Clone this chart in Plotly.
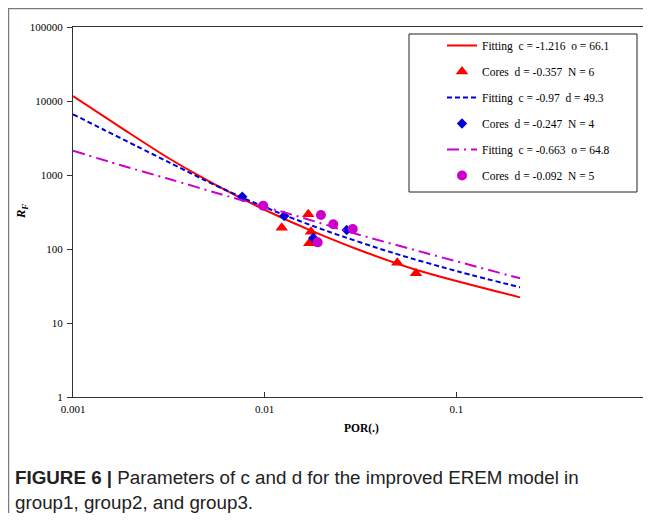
import plotly.graph_objects as go

# ---- data ----
red_fit_x = [0.001, 0.001906, 0.003082, 0.004783, 0.007145, 0.01066, 0.01723, 0.03142, 0.0621, 0.215]
red_fit_y = [11686, 3884, 1751, 905, 522, 314, 180, 96.3, 52.0, 22.2]
red_core_x = [0.01227, 0.01688, 0.01744, 0.01709, 0.0492, 0.0616]
red_core_y = [194, 294, 171, 120, 65.3, 47]

blue_fit_x = [0.001, 0.001439, 0.00215, 0.003206, 0.004783, 0.00743, 0.01276, 0.02113, 0.0469, 0.1044, 0.215]
blue_fit_y = [6612, 4120, 2450, 1462, 870, 512, 285, 175, 88.3, 48.9, 30.4]
blue_core_x = [0.00764, 0.01265, 0.01793, 0.0268]
blue_core_y = [509, 279, 141, 181]

mag_fit_x = [0.001, 0.001759, 0.003206, 0.005846, 0.01411, 0.03142, 0.06998, 0.215]
mag_fit_y = [2130, 1365, 875, 554, 288, 155, 87.5, 40.2]
mag_core_x = [0.00983, 0.01966, 0.0228, 0.0288, 0.0189]
mag_core_y = [385, 288, 216, 186, 123]

names = [
    "Fitting  c = -1.216  o = 66.1",
    "Cores  d = -0.357  N = 6",
    "Fitting  c = -0.97  d = 49.3",
    "Cores  d = -0.247  N = 4",
    "Fitting  c = -0.663  o = 64.8",
    "Cores  d = -0.092  N = 5",
]
x_ticks = [0.001, 0.01, 0.1, 1]
x_tick_text = ["0.001", "0.01", "0.1", "1"]
y_ticks = [1, 10, 100, 1000, 10000, 100000]
y_tick_text = ["1", "10", "100", "1000", "10000", "100000"]

RED = "#FF0000"
BLUE = "#0000DD"
MAG = "#CC00CC"
SERIF = "Liberation Serif"

fig = go.Figure()
fig.add_trace(go.Scatter(x=red_fit_x, y=red_fit_y, mode="lines", name=names[0], legendgroup="g1",
                         line=dict(color=RED, width=2, shape="spline", smoothing=0.8)))
fig.add_trace(go.Scatter(x=red_core_x, y=red_core_y, mode="markers", name=names[1], legendgroup="g2",
                         marker=dict(symbol="triangle-up", size=11, color=RED)))
fig.add_trace(go.Scatter(x=blue_fit_x, y=blue_fit_y, mode="lines", name=names[2], legendgroup="g3",
                         line=dict(color=BLUE, width=2, dash="5px,3px", shape="spline", smoothing=0.8)))
fig.add_trace(go.Scatter(x=blue_core_x, y=blue_core_y, mode="markers", name=names[3], legendgroup="g4",
                         marker=dict(symbol="diamond", size=8, color=BLUE)))
fig.add_trace(go.Scatter(x=mag_fit_x, y=mag_fit_y, mode="lines", name=names[4], legendgroup="g5",
                         line=dict(color=MAG, width=2, dash="12px,5px,2px,5px", shape="spline", smoothing=0.8)))
fig.add_trace(go.Scatter(x=mag_core_x, y=mag_core_y, mode="markers", name=names[5], legendgroup="g6",
                         marker=dict(symbol="circle", size=10, color=MAG)))

# page body adds an 8 px margin; reference pixel (X, Y) -> figure pixel (X-8, Y-8)
OFF = 8
W, H = 651 - OFF, 521 - 2 * OFF
pw, ph = 575, 370
L, T = 73 - OFF, 27 - OFF
R, B = W - L - pw, H - T - ph


def px(x):
    return (x - 73) / pw


def py(y):
    return 1 - (y - 27) / ph


# the last x tick label sits on the plot edge; draw it as a text label at that tick
tick_text_shown = x_tick_text[:-1] + [""]

fig.update_layout(
    width=W, height=H,
    margin=dict(l=L, r=R, t=T, b=B, autoexpand=False),
    paper_bgcolor="white", plot_bgcolor="white",
    font=dict(family=SERIF, size=11, color="black"),
    showlegend=True,
    legend=dict(
        x=px(442), y=py(31), xanchor="left", yanchor="top",
        bgcolor="rgba(0,0,0,0)", borderwidth=0,
        font=dict(family=SERIF, size=11.5, color="black"),
        tracegroupgap=7, traceorder="grouped",
    ),
    xaxis=dict(
        type="log", range=[-3, 0], tickvals=x_ticks, ticktext=tick_text_shown,
        ticks="inside", ticklen=5, tickcolor="#333333", automargin=False,
        showline=True, linecolor="#333333", linewidth=1, mirror=True,
        showgrid=False, zeroline=False, ticklabelstandoff=2,
        ticklabeloverflow="allow",
        tickfont=dict(family=SERIF, size=11),
    ),
    yaxis=dict(
        type="log", range=[0, 5], tickvals=y_ticks, ticktext=y_tick_text,
        ticks="outside", ticklen=5, tickcolor="#333333", automargin=False,
        showline=True, linecolor="#333333", linewidth=1, mirror=True,
        showgrid=False, zeroline=False, ticklabelstandoff=2,
        tickfont=dict(family=SERIF, size=11),
    ),
    shapes=[
        dict(type="rect", xref="paper", yref="paper", x0=px(409), x1=px(637), y0=py(34), y1=py(192),
             fillcolor="white", line=dict(color="#222222", width=1), layer="below"),
        dict(type="line", xref="paper", yref="paper", x0=px(8), x1=px(660), y0=py(8.6), y1=py(8.6),
             line=dict(color="#7a7a7a", width=1.2)),
        dict(type="line", xref="paper", yref="paper", x0=px(8.6), x1=px(8.6), y0=py(8.6), y1=py(540),
             line=dict(color="#7a7a7a", width=1.2)),
    ],
    annotations=[
        dict(text=x_tick_text[-1], xref="x", yref="paper", x=0, y=py(410),
             showarrow=False, xanchor="center", yanchor="middle",
             font=dict(family=SERIF, size=11, color="black")),
        dict(text="<b><i>R<sub>F</sub></i></b>", xref="paper", yref="paper", x=px(22), y=py(212),
             showarrow=False, textangle=-90, font=dict(family=SERIF, size=12.5, color="black"),
             xanchor="center", yanchor="middle"),
        dict(text="<b>POR(.)</b>", xref="paper", yref="paper", x=px(361), y=py(428),
             showarrow=False, font=dict(family=SERIF, size=11.5, color="black"),
             xanchor="center", yanchor="middle"),
        dict(text="<b>FIGURE 6 |</b> Parameters of c and d for the improved EREM model in",
             xref="paper", yref="paper", x=px(13), y=py(477), showarrow=False,
             xanchor="left", yanchor="middle",
             font=dict(family="Liberation Sans", size=18.8, color="#222222")),
        dict(text="group1, group2, and group3.",
             xref="paper", yref="paper", x=px(13), y=py(502), showarrow=False,
             xanchor="left", yanchor="middle",
             font=dict(family="Liberation Sans", size=18.8, color="#222222")),
    ],
)

fig.write_html("out.html")
